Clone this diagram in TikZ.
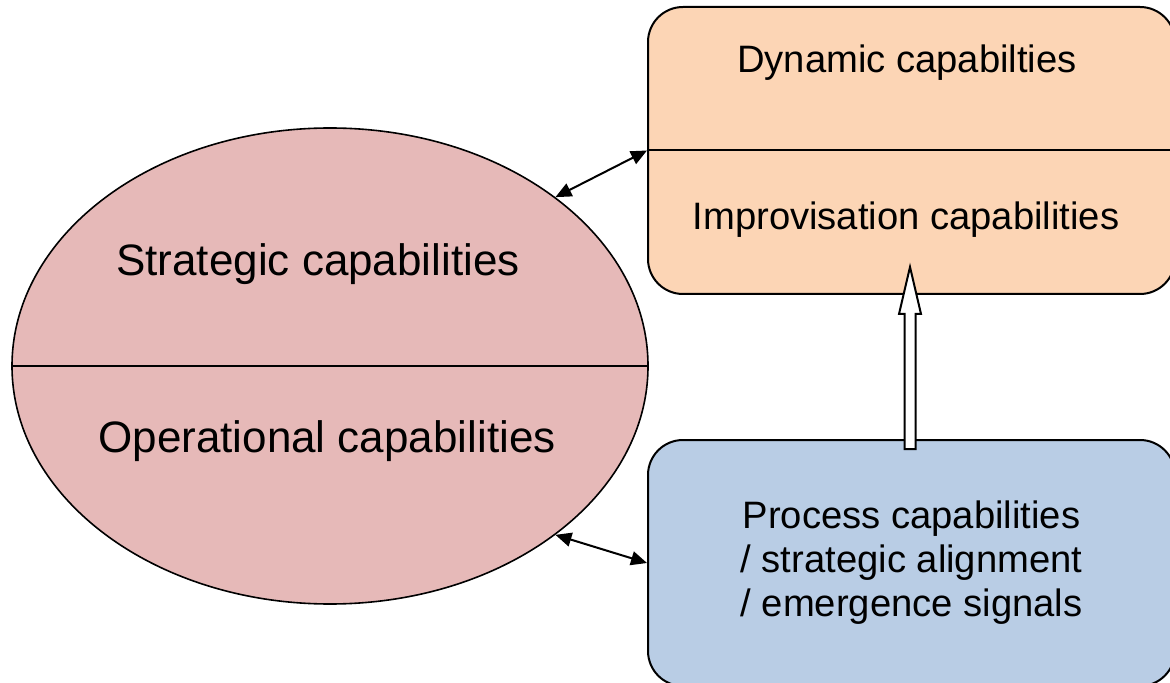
\documentclass[tikz,border=0pt]{standalone}
\usepackage{fontspec}
\setmainfont{Liberation Sans}
\usepackage{xcolor}
\usepackage{tikz}
\usetikzlibrary{arrows.meta, positioning}
\usetikzlibrary{shapes.geometric}
\usetikzlibrary{calc}
\definecolor{stratpink}{HTML}{E6B9B8}
\definecolor{dynorange}{HTML}{FCD5B5}
\definecolor{procblue}{HTML}{B9CDE5}

\begin{document}
\begin{tikzpicture}[x=0.5pt, y=-0.5pt, every node/.style={align=center}, >={Triangle[length=8pt,width=7pt]}]
        \def\boxwidth{263.5pt}
        \def\corner{17.5pt}
        \def\bigfont{\fontsize{22}{26}\selectfont}
        \def\smallfont{\fontsize{19.1}{22}\selectfont}
        \clip (0,0) rectangle (1170,683);
        \node[ellipse, draw, line width=0.8pt, fill=stratpink, minimum width=318pt, minimum height=238pt, inner sep=0pt] (capab) at (330,366) {};
        \begin{scope}[every node/.style={draw, line width=1pt, rounded corners=\corner, minimum width=\boxwidth, inner sep=0pt}]
            \node[fill=dynorange, minimum height=143.5pt] (dynamic) at (911.5,150.5) {};
            \node[fill=procblue, minimum height=123pt, align=center, font=\smallfont] (process) at (911.5,563) {Process capabilities\\ / strategic alignment\\ / emergence signals};
        \end{scope}
        \draw[line width=1pt] (capab.west) -- (capab.east);
        \draw[line width=1pt] (dynamic.west) -- (dynamic.east);
        \begin{scope}[every node/.style={anchor=base, inner sep=0pt}]
            \node[font=\bigfont] (strat) at (318,276) {Strategic capabilities};
            \node[font=\bigfont] (oper) at (327,452) {Operational capabilities};
            \node[font=\smallfont] (dyncap) at (907,73) {Dynamic capabilties};
            \node[font=\smallfont] (improv) at (906,230) {Improvisation capabilities};
        \end{scope}
        \draw[<->, line width=1pt] (capab.north east) -- (dynamic.west);
        \draw[<->, line width=1pt] (capab.south east) -- (process.west);
        % hollow arrow from process box up into dynamic box
        \coordinate (tail) at ($(process.north)+(-1.5,10)$);
        \coordinate (tip) at ($(dynamic.south)+(-1.5,-28)$);
        \draw[line width=1pt, fill=white] ($(tail)+(-5.5,0)$) -- ($(tip)+(-5.5,47)$) -- ($(tip)+(-11,47)$) -- (tip)
            -- ($(tip)+(11,47)$) -- ($(tip)+(5.5,47)$) -- ($(tail)+(5.5,0)$) -- cycle;
    \end{tikzpicture}
\end{document}
